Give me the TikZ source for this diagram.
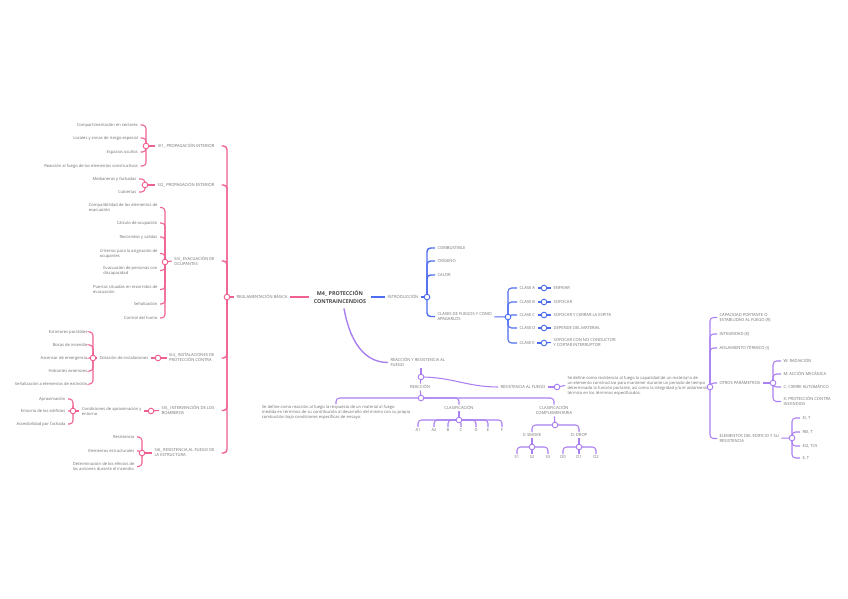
\documentclass[tikz,border=0pt]{standalone}
\usepackage{fontspec}
\setmainfont{Open Sans}

\definecolor{pk}{RGB}{240,96,146}
\definecolor{bl}{RGB}{78,108,240}
\definecolor{pu}{RGB}{170,128,240}
\definecolor{tx}{RGB}{112,112,112}
\definecolor{tt}{RGB}{72,72,72}

\tikzset{
  every node/.style={font=\fontsize{3.5}{4.3}\selectfont, text=tx, inner xsep=2pt, inner ysep=1pt},
  lft/.style={anchor=east, align=left},
  rgt/.style={anchor=west, align=left},
  mid/.style={align=center},
  topic/.style={font=\fontsize{4.6}{6.8}\selectfont\bfseries, text=tt, align=center, inner sep=4pt},
  dot/.style={circle, draw=#1, fill=white, line width=0.8pt, minimum size=4.8pt, inner sep=0pt},
  side/.style={draw=#1, line width=0.9pt, rounded corners=3pt, to path={(\tikztostart) |- (\tikztotarget)}},
  drop/.style={draw=#1, line width=0.9pt, rounded corners=3pt, to path={(\tikztostart) -| (\tikztotarget)}},
  link/.style={draw=#1, line width=0.9pt},
}

\begin{document}
\begin{tikzpicture}[x=0.03cm, y=-0.03cm]
  \fill[white] (0,0) rectangle (848,599);
  \useasboundingbox (0,0) rectangle (848,599);

  % centre
  \node[topic] (m4) at (340,297) {M4\_ PROTECCIÓN\\CONTRAINCENDIOS};

  % reglamentacion basica
  \node[rgt] (regl) at (234,297) {REGLAMENTACIÓN BÁSICA};
  \coordinate (kRB) at (227,297);
  \node[lft] (si1) at (217,146) {SI1\_ PROPAGACIÓN INTERIOR};
  \node[lft] (si2) at (217,185) {SI2\_ PROPAGACIÓN EXTERIOR};
  \node[lft] (si3) at (217,261) {SI3\_ EVACUACIÓN DE\\OCUPANTES};
  \node[lft] (si4) at (217,358) {SI4\_ INSTALACIONES DE\\PROTECCIÓN CONTRA};
  \node[lft] (si5) at (217,410.5) {SI5\_ INTERVENCIÓN DE LOS\\BOMBEROS};
  \node[lft] (si6) at (217,453) {SI6\_ RESISTENCIA AL FUEGO DE\\LA ESTRUCTURA};
  \coordinate (kSI1) at (146,146);
  \coordinate (kSI2) at (145,185);
  \coordinate (kSI3) at (165,262);
  \coordinate (kSI4) at (158,358);
  \coordinate (kSI5) at (151,411);
  \coordinate (kSI6) at (142,453);

  % SI1
  \node[lft] (s11) at (140.5,125) {Compartimentación en sectores};
  \node[lft] (s12) at (140.5,138) {Locales y zonas de riesgo especial};
  \node[lft] (s13) at (140.5,152) {Espacios ocultos};
  \node[lft] (s14) at (140.5,166) {Reacción al fuego de los elementos constructivos};
  % SI2
  \node[lft] (s21) at (139,179) {Medianeras y fachadas};
  \node[lft] (s22) at (139,192) {Cubiertas};
  % SI3
  \node[lft] (s31) at (160,207.5) {Compatibilidad de los elementos de\\evacuación};
  \node[lft] (s32) at (160,223) {Cálculo de ocupación};
  \node[lft] (s33) at (160,237) {Recorridos y salidas};
  \node[lft] (s34) at (160,253.5) {Criterios para la asignación de\\ocupantes};
  \node[lft] (s35) at (160,270.5) {Evacuación de personas con\\discapacidad};
  \node[lft] (s36) at (160,289.5) {Puertas situadas en recorridos de\\evacuación};
  \node[lft] (s37) at (160,304) {Señalización};
  \node[lft] (s38) at (160,318) {Control del humo};
  % SI4
  \node[lft] (dot4) at (151,358) {Dotación de instalaciones};
  \coordinate (kDI) at (93,358);
  \node[lft] (s41) at (90,332) {Extintores portátiles};
  \node[lft] (s42) at (90,345) {Bocas de incendio};
  \node[lft] (s43) at (90,358) {Ascensor de emergencia};
  \node[lft] (s44) at (90,371) {Hidrantes exteriores};
  \node[lft] (s45) at (90,384) {Señalización a elementos de extinción};
  % SI5
  \node[lft] (cond) at (144,411) {Condiciones de aproximación y\\entorno};
  \coordinate (kCO) at (73,411);
  \node[lft] (s51) at (68,399) {Aproximación};
  \node[lft] (s52) at (68,411) {Entorno de los edificios};
  \node[lft] (s53) at (68,424) {Accesibilidad por fachada};
  % SI6
  \node[lft] (s61) at (137,437) {Resistencia};
  \node[lft] (s62) at (137,451) {Elementos estructurales};
  \node[lft] (s63) at (137,466.5) {Determinación de los efectos de\\las acciones durante el incendio};

  \path[side=pk, line width=1.2pt]
    (kRB) edge ([xshift=4pt]si1.east) edge ([xshift=4pt]si2.east)
          edge ([xshift=4pt]si3.east) edge ([xshift=4pt]si4.east)
          edge ([xshift=4pt]si5.east) edge ([xshift=4pt]si6.east);
  \path[side=pk]
    (kSI1) edge (s11.east) edge (s12.east) edge (s13.east) edge (s14.east)
    (kSI2) edge (s21.east) edge (s22.east)
    (kSI3) edge (s31.east) edge (s32.east) edge (s33.east) edge (s34.east)
           edge (s35.east) edge (s36.east) edge (s37.east) edge (s38.east)
    (kDI) edge (s41.east) edge (s42.east) edge (s43.east) edge (s44.east) edge (s45.east)
    (kCO) edge (s51.east) edge (s52.east) edge (s53.east)
    (kSI6) edge (s61.east) edge (s62.east) edge (s63.east);
  \path[link=pk, line width=1.2pt] (regl) edge (m4) (kRB) edge (regl.west);
  \path[link=pk]
    (kSI1) edge (si1.west) (kSI2) edge (si2.west) (kSI3) edge (si3.west)
    (kSI4) edge (si4.west) (kSI4) edge (dot4.east) (kDI) edge (dot4.west)
    (kSI5) edge (si5.west) (kSI5) edge (cond.east) (kCO) edge (cond.west)
    (kSI6) edge (si6.west);
  \foreach \k in {kRB,kSI1,kSI2,kSI3,kSI4,kDI,kSI5,kCO,kSI6}
    \node[dot=pk] at (\k) {};

  % introduccion
  \node[rgt] (intro) at (385,297) {INTRODUCCIÓN};
  \coordinate (kIN) at (427,297);
  \node[rgt] (comb) at (435,248) {COMBUSTIBLE};
  \node[rgt] (oxi) at (435,261) {OXÍGENO};
  \node[rgt] (calor) at (435,275) {CALOR};
  \node[rgt] (clases) at (435,316.5) {CLASES DE FUEGOS Y COMO\\APAGARLOS};
  \coordinate (kCF) at (508,317);
  \node[rgt] (ca) at (517,288) {CLASE A};
  \node[rgt] (cb) at (517,302) {CLASE B};
  \node[rgt] (cc) at (517,315) {CLASE C};
  \node[rgt] (cd) at (517,328) {CLASE D};
  \node[rgt] (ce) at (517,343) {CLASE E};
  \coordinate (kA) at (544,288);
  \coordinate (kB) at (544,302);
  \coordinate (kC) at (544,315);
  \coordinate (kD) at (544,328);
  \coordinate (kE) at (544,343);
  \node[rgt] (ra) at (551,288) {ENFRIAR};
  \node[rgt] (rb) at (551,302) {SOFOCAR};
  \node[rgt] (rc) at (551,315) {SOFOCAR Y CERRAR LA ESPITA};
  \node[rgt] (rd) at (551,328) {DEPENDE DEL MATERIAL};
  \node[rgt] (re) at (551,342.5) {SOFOCAR CON NO CONDUCTOR\\Y CORTAR INTERRUPTOR};

  \path[link=bl, line width=1.2pt] (m4) edge (intro) (intro) edge (kIN);
  \path[side=bl, line width=1.2pt]
    (kIN) edge (comb.west) edge (oxi.west) edge (calor.west) edge (clases.west);
  \path[side=bl]
    (kCF) edge (ca.west) edge (cb.west) edge (cc.west) edge (cd.west) edge (ce.west);
  \path[link=bl]
    (clases) edge (kCF)
    (ca) edge (kA) (kA) edge (ra.west)
    (cb) edge (kB) (kB) edge (rb.west)
    (cc) edge (kC) (kC) edge (rc.west)
    (cd) edge (kD) (kD) edge (rd.west)
    (ce) edge (kE) (kE) edge (re.west);
  \foreach \k in {kIN,kCF,kA,kB,kC,kD,kE}
    \node[dot=bl] at (\k) {};

  % reaccion y resistencia al fuego
  \node[rgt] (rrf) at (388,362.5) {REACCIÓN Y RESISTENCIA AL\\FUEGO};
  \coordinate (kRR) at (421,377);
  \node (reac) at (420,387) {REACCIÓN};
  \coordinate (kRE) at (421,398);
  \node[anchor=north, align=left] (rdef) at (336,404)
    {Se define como reacción al fuego la respuesta de un material al fuego\\
     medida en términos de su contribución al desarrollo del mismo con su propia\\
     combustión bajo condiciones específicas de ensayo.};
  \node (clas) at (459,408) {CLASIFICACIÓN};
  \coordinate (kCL) at (459,420);
  \node (cA1) at (418,430) {A1};
  \node (cA2) at (434,430) {A2};
  \node (cB) at (448,430) {B};
  \node (cC) at (461,430) {C};
  \node (cD) at (476,430) {D};
  \node (cE) at (488,430) {E};
  \node (cF) at (502,430) {F};
  \node[mid] (clco) at (554,410.5) {CLASIFICACIÓN\\COMPLEMENTARIA};
  \coordinate (kCC) at (555,425);
  \node (sm) at (532,435) {S: SMOKE};
  \node (dr) at (579,435) {D: DROP};
  \coordinate (kSM) at (532,447);
  \coordinate (kDR) at (579,447);
  \node (sS1) at (517,457) {S1};
  \node (sS2) at (532,457) {S2};
  \node (sS3) at (548,457) {S3};
  \node (dD0) at (563,457) {D0};
  \node (dD1) at (579,457) {D1};
  \node (dD2) at (596,457) {D2};

  \node[rgt] (resi) at (498,387) {RESISTENCIA AL FUEGO};
  \coordinate (kRF) at (557,387);
  \node[rgt] (rfdef) at (565,385.5)
    {Se define como resistencia al fuego la capacidad de un material o de\\
     un elemento constructivo para mantener durante un periodo de tiempo\\
     determinado la función portante, así como la integridad y/o el aislamiento\\
     térmico en los términos especificados.};
  \coordinate (kRP) at (710,387);
  \node[rgt] (cap) at (717,317.5) {CAPACIDAD PORTANTE O\\ESTABILIDAD AL FUEGO (R)};
  \node[rgt] (integ) at (717,334) {INTEGRIDAD (E)};
  \node[rgt] (aisl) at (717,348) {AISLAMIENTO TÉRMICO (I)};
  \node[rgt] (otros) at (717,383) {OTROS PARÁMETROS};
  \node[rgt] (elem) at (717,438.5) {ELEMENTOS DEL EDIFICIO Y SU\\RESISTENCIA};
  \coordinate (kOT) at (773,383);
  \node[rgt] (pw) at (781,361) {W: RADIACIÓN};
  \node[rgt] (pm) at (781,374) {M: ACCIÓN MECÁNICA};
  \node[rgt] (pc) at (781,387) {C: CIERRE AUTOMÁTICO};
  \node[rgt] (pk) at (781,401.5) {K: PROTECCIÓN CONTRA\\INCENDIOS};
  \coordinate (kEL) at (792,438);
  \node[rgt] (e1) at (800,418) {EI, T};
  \node[rgt] (e2) at (800,432) {REI, T};
  \node[rgt] (e3) at (800,446) {EI2, TC5};
  \node[rgt] (e4) at (800,458) {E, T};

  \draw[pu, line width=1.2pt] ([xshift=1.2mm]m4.south) to[out=-80, in=180] (rrf.west);
  \path[link=pu]
    (kRR) edge (kRR |- rrf.south)
    (kRR) edge (reac) (reac) edge (kRE)
    (clas) edge (kCL) (clco) edge (kCC)
    (sm) edge (kSM) (dr) edge (kDR)
    (resi) edge (kRF) (kRF) edge (rfdef.west) (rfdef) edge (kRP)
    (otros) edge (kOT) (elem) edge (kEL);
  \path[link=pu] (kRR) edge[out=0, in=180] (resi.west);
  \path[drop=pu]
    (kRE) edge (rdef.north) edge (clas.north) edge (clco.north)
    (kCL) edge (cA1.north) edge (cA2.north) edge (cB.north) edge (cC.north)
          edge (cD.north) edge (cE.north) edge (cF.north)
    (kCC) edge (sm.north) edge (dr.north)
    (kSM) edge (sS1.north) edge (sS2.north) edge (sS3.north)
    (kDR) edge (dD0.north) edge (dD1.north) edge (dD2.north);
  \path[side=pu]
    (kRP) edge (cap.west) edge (integ.west) edge (aisl.west) edge (otros.west) edge (elem.west)
    (kOT) edge (pw.west) edge (pm.west) edge (pc.west) edge (pk.west)
    (kEL) edge (e1.west) edge (e2.west) edge (e3.west) edge (e4.west);
  \foreach \k in {kRR,kRE,kCL,kCC,kSM,kDR,kRF,kRP,kOT,kEL}
    \node[dot=pu] at (\k) {};
\end{tikzpicture}
\end{document}
